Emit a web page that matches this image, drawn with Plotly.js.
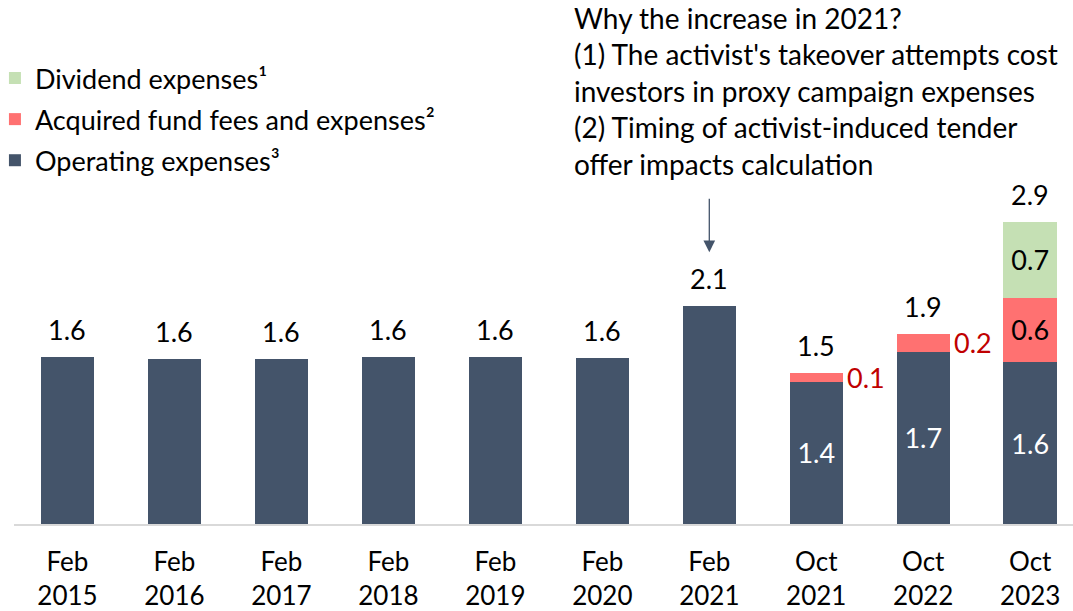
<!DOCTYPE html>
<html>
<head>
<meta charset="utf-8">
<script src="https://cdn.plot.ly/plotly-3.0.1.min.js"></script>
<style>html,body{margin:0;padding:0;background:#fff;}#chart{width:1073px;height:611px;}</style>
</head>
<body>
<div id="chart"></div>
<script>
// ---- data ----
const categories = ["Feb<br>2015","Feb<br>2016","Feb<br>2017","Feb<br>2018","Feb<br>2019","Feb<br>2020","Feb<br>2021","Oct<br>2021","Oct<br>2022","Oct<br>2023"];
const operating = [1.61, 1.59, 1.59, 1.61, 1.61, 1.60, 2.10, 1.37, 1.66, 1.56];
const acquired  = [0, 0, 0, 0, 0, 0, 0, 0.09, 0.17, 0.62];
const dividend  = [0, 0, 0, 0, 0, 0, 0, 0, 0, 0.73];
const totalLabels     = ["1.6","1.6","1.6","1.6","1.6","1.6","2.1","1.5","1.9","2.9"];
const operatingLabels = ["","","","","","","","1.4","1.7","1.6"];
const acquiredInside  = ["","","","","","","","","","0.6"];
const acquiredOutside = ["","","","","","","","0.1","0.2",""];
const dividendLabels  = ["","","","","","","","","","0.7"];
const seriesNames = ["Operating expenses³","Acquired fund fees and expenses²","Dividend expenses¹"];
const noteLines = ["Why the increase in 2021?","(1) The activist's takeover attempts cost","investors in proxy campaign expenses","(2) Timing of activist-induced tender","offer impacts calculation"];

const FONT = "Lato, 'Open Sans', sans-serif";
const FS = 27;
const xIdx = categories.map((_, i) => i);
const totals = operating.map((v, i) => v + acquired[i] + dividend[i]);

const traces = [
  {type:'bar', name:seriesNames[0], x:xIdx, y:operating, marker:{color:'#44546a'},
   text:operatingLabels, textposition:'inside', insidetextanchor:'middle',
   textfont:{color:'#ffffff', size:FS, family:FONT}, legendgroup:'a', legendrank:3, hoverinfo:'none'},
  {type:'bar', name:seriesNames[1], x:xIdx, y:acquired, marker:{color:'#ff7171'},
   text:acquiredInside, textposition:'inside', insidetextanchor:'middle',
   textfont:{color:'#000000', size:FS, family:FONT}, legendgroup:'b', legendrank:2, hoverinfo:'none'},
  {type:'bar', name:seriesNames[2], x:xIdx, y:dividend, marker:{color:'#c5e0b4'},
   text:dividendLabels, textposition:'inside', insidetextanchor:'middle',
   textfont:{color:'#000000', size:FS, family:FONT}, legendgroup:'c', legendrank:1, hoverinfo:'none'}
];

const annotations = [];
totalLabels.forEach((t, i) => {
  annotations.push({x:i, y:totals[i], xref:'x', yref:'y', text:t, showarrow:false,
    xanchor:'center', yanchor:'bottom', yshift:9,
    font:{color:'#000000', size:FS, family:FONT}});
});
acquiredOutside.forEach((t, i) => {
  if (!t) return;
  annotations.push({x:i, y:operating[i] + acquired[i]/2, xref:'x', yref:'y', text:t,
    showarrow:false, xanchor:'left', yanchor:'middle', xshift:29,
    font:{color:'#c00000', size:FS, family:FONT}});
});
annotations.push({x:0.5273, y:1.0, xref:'paper', yref:'paper', xanchor:'left', yanchor:'top',
  yshift:1, text:noteLines.join('<br>'), align:'left', showarrow:false,
  font:{color:'#000000', size:28, family:FONT}});
annotations.push({x:6, y:totals[6] + 0.52, xref:'x', yref:'y', ax:0, ay:-55, text:'',
  showarrow:true, arrowhead:2, arrowsize:1.8, arrowwidth:1.3, arrowcolor:'#44546a'});

const layout = {
  width:1073, height:611,
  margin:{l:14, r:0, t:0, b:87, autoexpand:false},
  paper_bgcolor:'#ffffff', plot_bgcolor:'#ffffff',
  barmode:'stack', bargap:0.5,
  font:{family:FONT, size:FS, color:'#000000'},
  xaxis:{range:[-0.5, 9.4], tickvals:xIdx, ticktext:categories, showgrid:false, zeroline:false,
    showline:true, linecolor:'#d9d9d9', linewidth:2, ticks:'', ticklabelstandoff:14,
    tickfont:{size:26, family:FONT, color:'#000'}, fixedrange:true, automargin:false},
  yaxis:{range:[0, 5.05], visible:false, showgrid:false, zeroline:false, fixedrange:true},
  showlegend:true,
  legend:{x:-0.018, y:0.897, xanchor:'left', yanchor:'top', traceorder:'grouped',
    tracegroupgap:3, font:{size:FS, family:FONT, color:'#000'}, bgcolor:'rgba(0,0,0,0)', itemwidth:30},
  annotations:annotations
};

Plotly.newPlot('chart', traces, layout, {staticPlot:true, displayModeBar:false});
</script>
</body>
</html>
